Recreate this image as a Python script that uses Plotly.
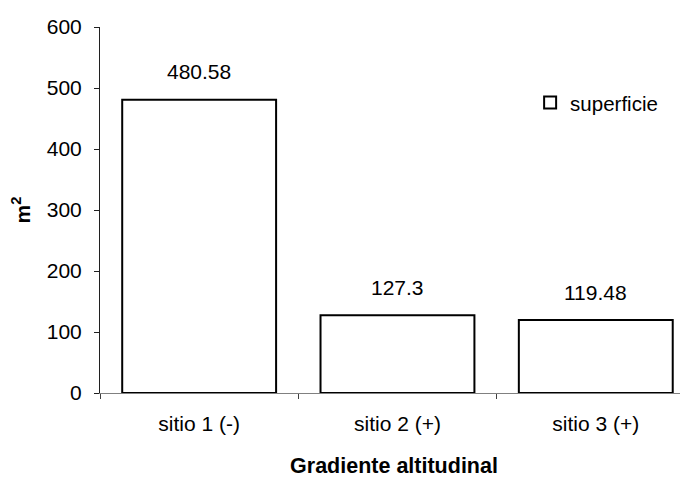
import plotly.graph_objects as go

categories = ["sitio 1 (-)", "sitio 2 (+)", "sitio 3 (+)"]
superficie = [480.58, 127.3, 119.48]
value_labels = ["480.58", "127.3", "119.48"]
y_ticks = [0, 100, 200, 300, 400, 500, 600]
series_name = "superficie"

FONT = "Arial, Liberation Sans, sans-serif"

fig = go.Figure()
fig.add_trace(go.Bar(
    x=categories, y=superficie, name=series_name,
    marker=dict(color="white", line=dict(color="black", width=2)),
    width=0.776, showlegend=True,
))

for c, v, t in zip(categories, superficie, value_labels):
    fig.add_annotation(x=c, y=v, text=t, showarrow=False, yanchor="middle",
                       yshift=28, font=dict(family=FONT, size=21, color="black"))

fig.update_layout(
    width=680, height=470,
    margin=dict(l=91.5, r=0, t=19, b=85),
    paper_bgcolor="white", plot_bgcolor="white",
    font=dict(family=FONT, size=20, color="black"),
    showlegend=True,
    legend=dict(x=0.7315, y=0.793, xanchor="left", yanchor="middle",
                font=dict(family=FONT, size=20.5, color="black"),
                bgcolor="rgba(0,0,0,0)", itemwidth=30),
    xaxis=dict(
        range=[-0.5, 2.465], type="category",
        showline=True, linecolor="#808080", linewidth=1,
        ticks="outside", tickson="boundaries", ticklen=5, tickcolor="#404040",
        ticklabelstandoff=12,
        showgrid=False, zeroline=False,
        tickfont=dict(family=FONT, size=21, color="black"),
        title=dict(text="<b>Gradiente altitudinal</b>", standoff=27,
                   font=dict(family=FONT, size=21.5, color="black")),
        automargin=False,
    ),
    yaxis=dict(
        range=[0, 600], tickvals=y_ticks,
        showline=True, linecolor="#202020", linewidth=1,
        ticks="outside", ticklen=5, tickcolor="#202020",
        ticklabelstandoff=8,
        showgrid=False, zeroline=False,
        tickfont=dict(family=FONT, size=21, color="black"),
        title=dict(text="<b>m<sup>2</sup></b>", standoff=18,
                   font=dict(family=FONT, size=21, color="black")),
        automargin=False,
    ),
)

fig.write_html("out.html")
